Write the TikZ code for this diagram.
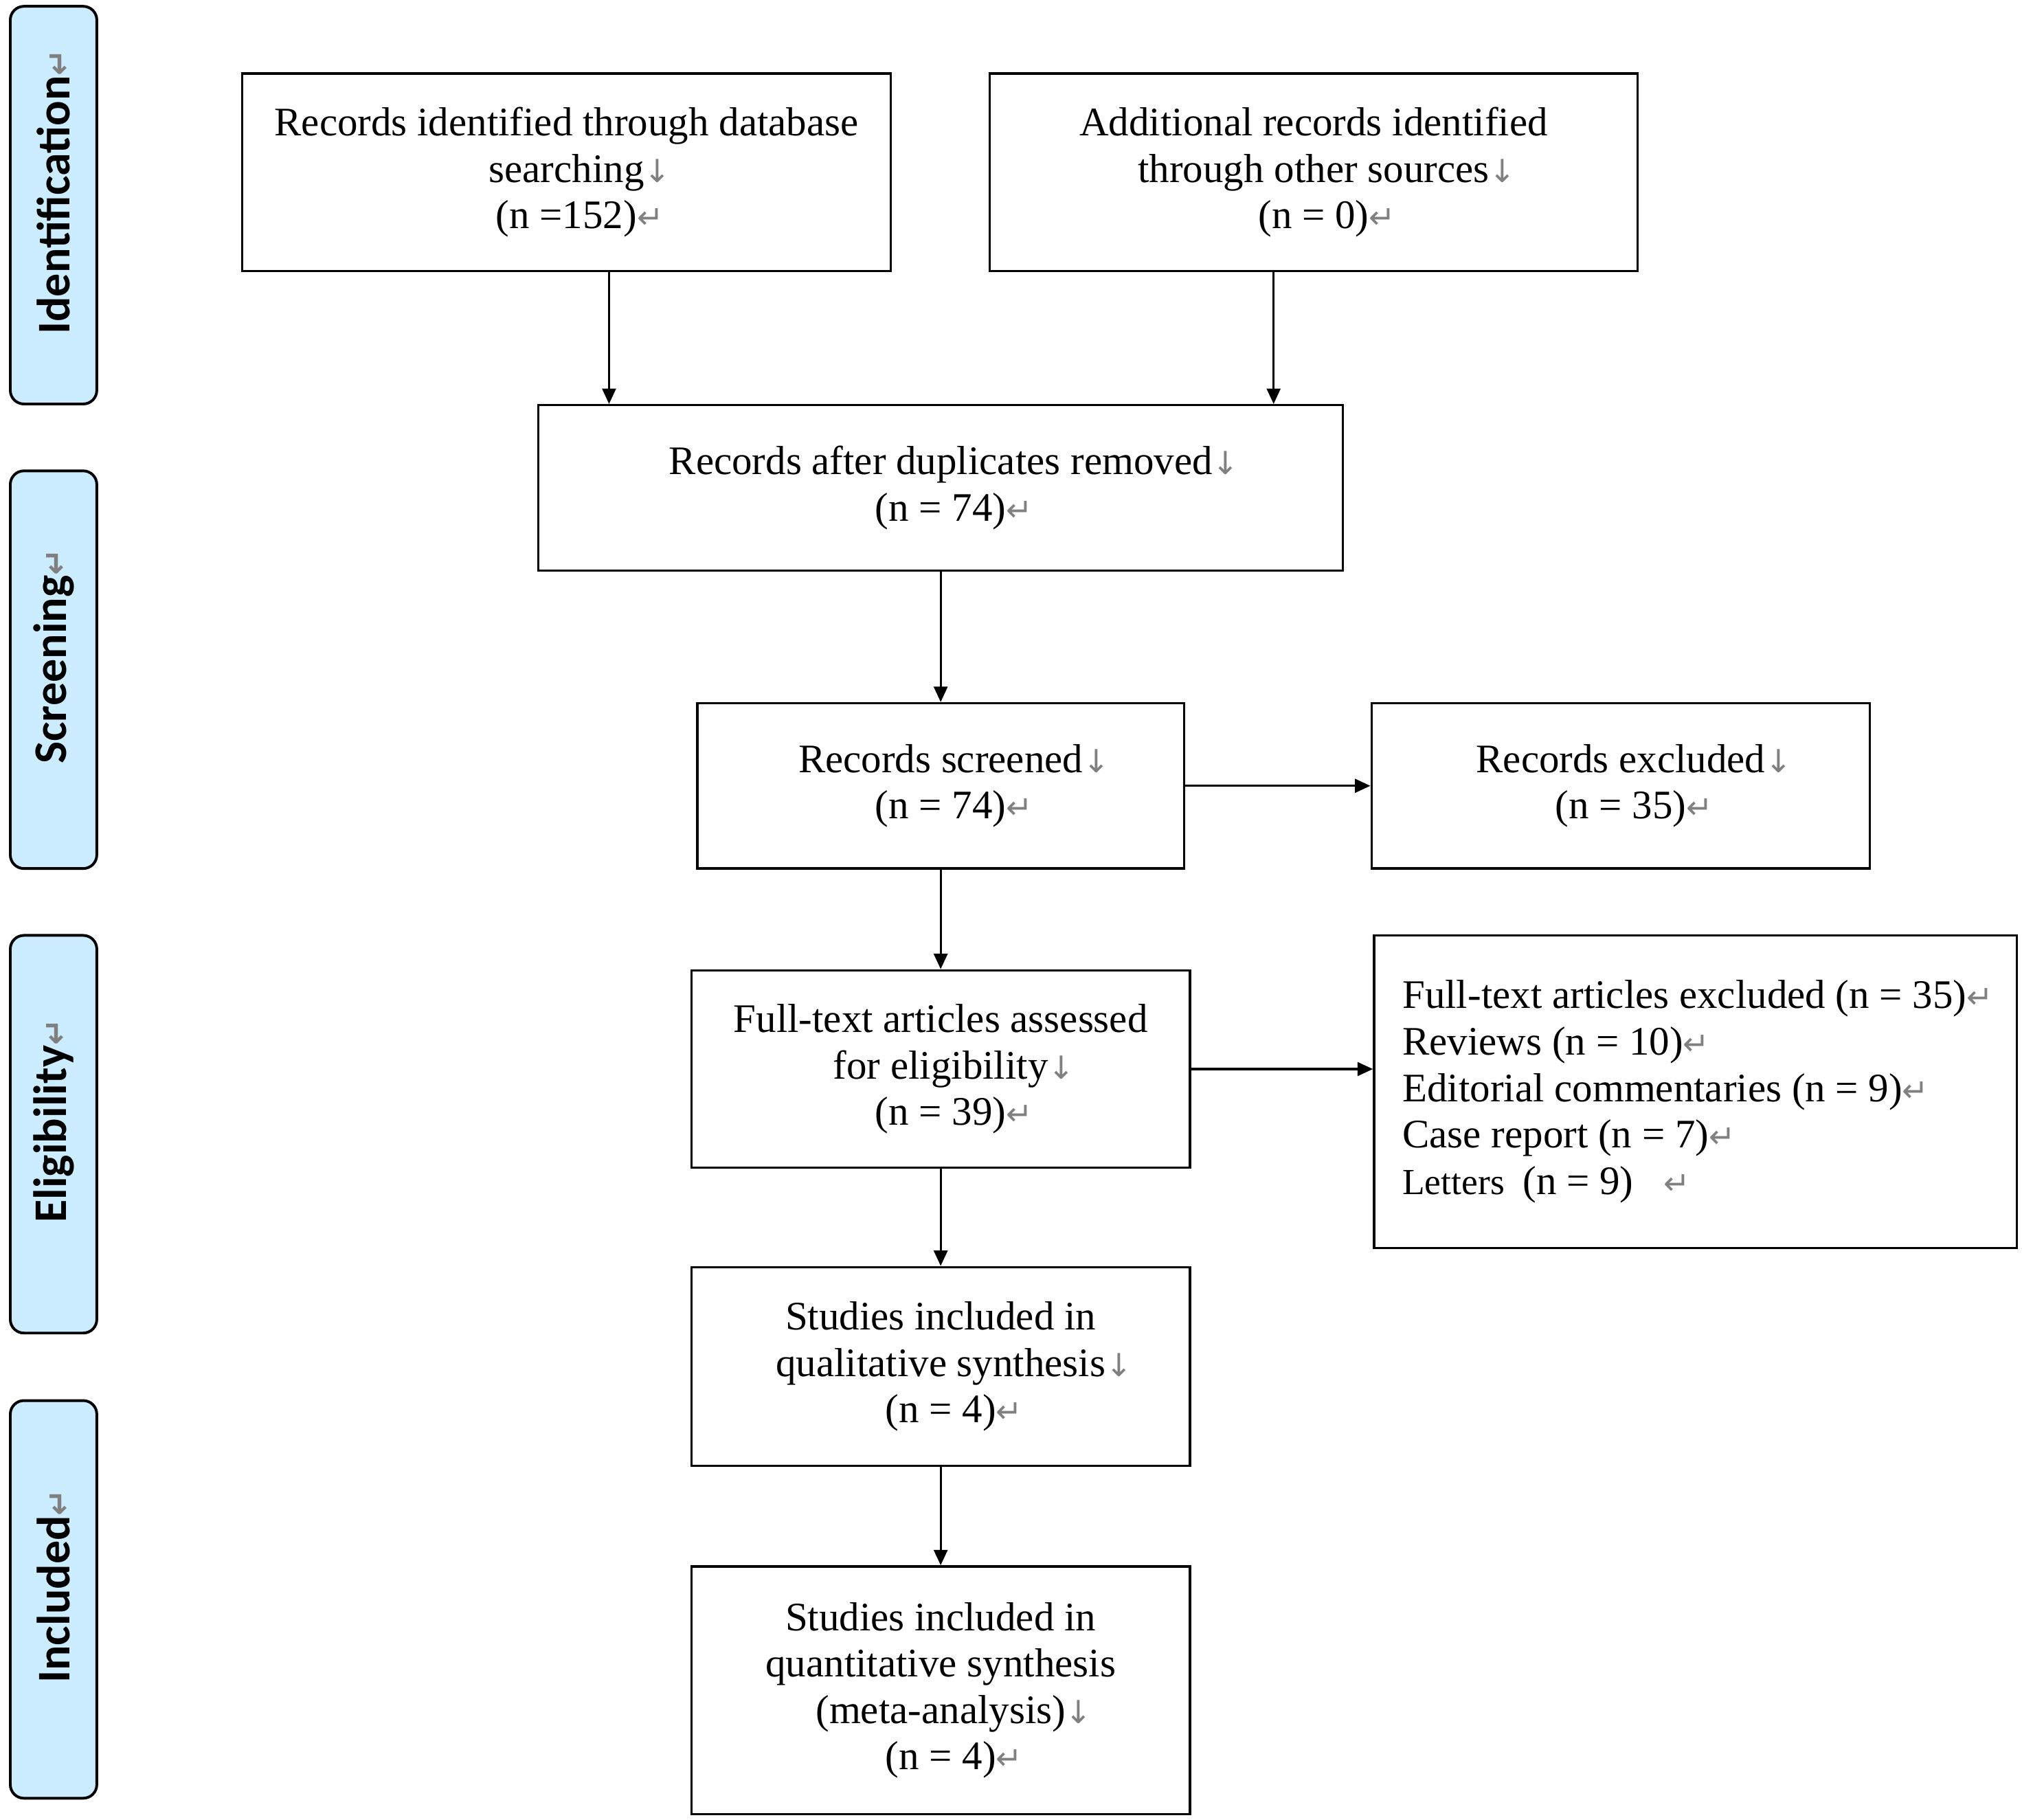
\documentclass[tikz,border=0pt]{standalone}
\usepackage{fontspec}
\setmainfont{Liberation Serif}
\newfontfamily\sidefont{Carlito}
\newfontfamily\markfont{DejaVu Sans}
\usetikzlibrary{arrows.meta}
\definecolor{sidefill}{HTML}{CCECFF}
\definecolor{markgray}{HTML}{808080}
\newcommand{\brk}{\rlap{\textcolor{markgray}{\markfont\fontsize{7}{8}\selectfont ↓}}}
\newcommand{\ret}{\rlap{\textcolor{markgray}{\markfont\fontsize{7}{8}\selectfont ↵}}}
\begin{document}
\begin{tikzpicture}[x=0.01cm, y=-0.01cm,
  box/.style={draw, line width=0.5pt, inner sep=0pt, align=center,
    font=\fontsize{8.93}{10.24}\selectfont},
  arr/.style={-{Triangle[length=3.4pt,width=3pt]}, line width=0.5pt},
  side/.style={draw, fill=sidefill, rounded corners=3pt, line width=0.6pt,
    minimum width=0.67cm, minimum height=3.08cm, inner sep=0pt},
  sidelabel/.style={rotate=90, inner sep=0pt,
    font=\sidefont\bfseries\fontsize{10.3}{12}\selectfont}]
\useasboundingbox (0,0) rectangle (1567,1410);

% side stage boxes
\node[side] (s1) at (41.5,159) {};
\node[side] (s2) at (41.5,519) {};
\node[side] (s3) at (41.5,879) {};
\node[side] (s4) at (41.5,1239.5) {};
\node[sidelabel] (l1) at (s1) {Identification\ret};
\node[sidelabel] (l2) at (s2) {Screening\ret};
\node[sidelabel] (l3) at (s3) {Eligibility\ret};
\node[sidelabel] (l4) at (s4) {Included\ret};

% flow boxes
\node[box, minimum width=5.02cm, minimum height=1.53cm] (b1) at (439,133.5)
  {Records identified through database\\ searching\brk\\ (n =152)\ret};
\node[box, minimum width=5.02cm, minimum height=1.53cm] (b2) at (1018,133.5)
  {Additional records identified\\ through other sources\brk\\ (n = 0)\ret};
\node[box, minimum width=6.23cm, minimum height=1.28cm] (b3) at (729,378)
  {Records after duplicates removed\brk\\ (n = 74)\ret};
\node[box, minimum width=3.77cm, minimum height=1.28cm] (b4) at (729,609)
  {Records screened\brk\\ (n = 74)\ret};
\node[box, minimum width=3.86cm, minimum height=1.28cm] (b5) at (1256,609)
  {Records excluded\brk\\ (n = 35)\ret};
\node[box, minimum width=3.86cm, minimum height=1.53cm] (b6) at (729,828.5)
  {Full-text articles assessed\\ for eligibility\brk\\ (n = 39)\ret};
\node[box, align=flush left, text width=4.54cm, inner xsep=0.22cm, minimum height=2.42cm] (b7) at (1314,846)
  {Full-text articles excluded (n = 35)\ret\\
   Reviews (n = 10)\ret\\
   Editorial commentaries (n = 9)\ret\\
   Case report (n = 7)\ret\\
   {\fontsize{8.1}{10.24}\selectfont Letters\enspace}(n = 9)\enspace\ \ret};
\node[box, minimum width=3.86cm, minimum height=1.54cm] (b8) at (729,1059)
  {Studies included in\\ qualitative synthesis\brk\\ (n = 4)\ret};
\node[box, minimum width=3.86cm, minimum height=1.92cm] (b9) at (729,1310)
  {Studies included in\\ quantitative synthesis\\ (meta-analysis)\brk\\ (n = 4)\ret};

% connectors
\coordinate (xa) at (472,0);
\coordinate (xb) at (987,0);
\draw[arr] (b1.south -| xa) -- (b3.north -| xa);
\draw[arr] (b2.south -| xb) -- (b3.north -| xb);
\draw[arr] (b3.south) -- (b4.north);
\draw[arr] (b4.east) -- (b5.west);
\draw[arr] (b4.south) -- (b6.north);
\draw[arr] (b6.east) -- (b7.west |- b6.east);
\draw[arr] (b6.south) -- (b8.north);
\draw[arr] (b8.south) -- (b9.north);
\end{tikzpicture}
\end{document}
